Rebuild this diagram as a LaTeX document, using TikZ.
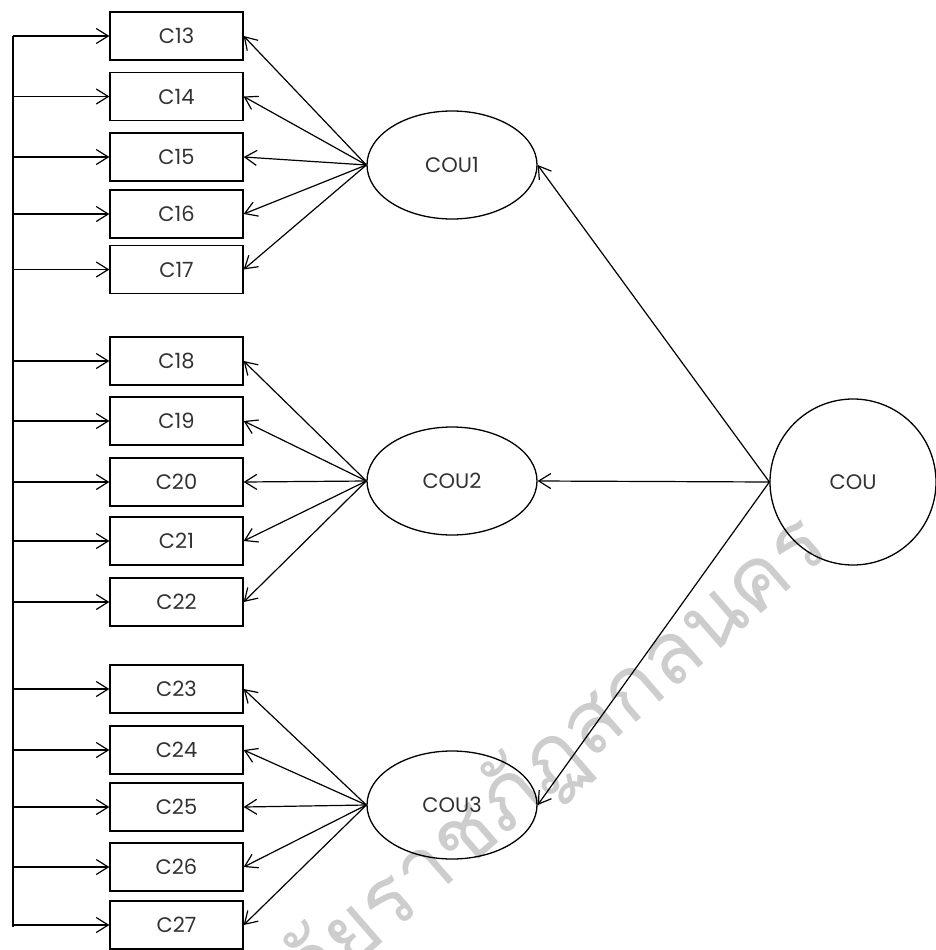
\documentclass[tikz,border=0pt]{standalone}
\usepackage{fontspec}
\setmainfont{Poppins}
\newfontfamily\thaifont[Script=Thai]{Loma}
\usetikzlibrary{arrows.meta,shapes.geometric}

\definecolor{markGrey}{RGB}{205,205,205}
\definecolor{textGrey}{RGB}{50,50,50}

\tikzset{
  itembox/.style={draw, line width=1.3pt, minimum width=133pt, minimum height=48pt,
    inner sep=0pt, font=\fontsize{21}{21}\selectfont, text=textGrey},
  factor/.style={draw, ellipse, line width=1.3pt, minimum width=170pt, minimum height=108pt,
    inner sep=0pt, font=\fontsize{21}{21}\selectfont, text=textGrey},
  barb/.style={-{Straight Barb[length=12pt,width=15pt,line width=1.2pt]}, line width=1.2pt}
}

\begin{document}
\begin{tikzpicture}[x=1pt,y=-1pt]
  \useasboundingbox (0,0) rectangle (935,950);
  % Watermark
  \begin{scope}
    \clip (0,0) rectangle (935,950);
    \node[anchor=base east, rotate=41, text=markGrey, inner sep=0pt,
      font=\thaifont\fontsize{86}{86}\selectfont] (wmark) at (832,552) {มหาวิทยาลัยราชภัฏสกลนคร};
  \end{scope}
  % Items
  \node[itembox] (c13) at (176.5,36) {C13};
  \node[itembox] (c14) at (176.5,96.5) {C14};
  \node[itembox] (c15) at (176.5,157) {C15};
  \node[itembox] (c16) at (176.5,214) {C16};
  \node[itembox] (c17) at (176.5,269.5) {C17};
  \node[itembox] (c18) at (176.5,361) {C18};
  \node[itembox] (c19) at (176.5,421) {C19};
  \node[itembox] (c20) at (176.5,482) {C20};
  \node[itembox] (c21) at (176.5,541) {C21};
  \node[itembox] (c22) at (176.5,602) {C22};
  \node[itembox] (c23) at (176.5,689) {C23};
  \node[itembox] (c24) at (176.5,750) {C24};
  \node[itembox] (c25) at (176.5,807) {C25};
  \node[itembox] (c26) at (176.5,867) {C26};
  \node[itembox] (c27) at (176.5,925) {C27};
  % Factors
  \node[factor] (cou1) at (452,165) {COU1};
  \node[factor] (cou2) at (452,481) {COU2};
  \node[factor] (cou3) at (452,805) {COU3};
  \node[draw, circle, line width=1.3pt, minimum size=166pt, inner sep=0pt,
    font=\fontsize{21}{21}\selectfont, text=textGrey] (cou) at (853,482) {COU};
  % Left spine
  \coordinate (s13) at (13,36);
  \coordinate (s14) at (13,96.5);
  \coordinate (s15) at (13,157);
  \coordinate (s16) at (13,214);
  \coordinate (s17) at (13,269.5);
  \coordinate (s18) at (13,361);
  \coordinate (s19) at (13,421);
  \coordinate (s20) at (13,482);
  \coordinate (s21) at (13,541);
  \coordinate (s22) at (13,602);
  \coordinate (s23) at (13,689);
  \coordinate (s24) at (13,750);
  \coordinate (s25) at (13,807);
  \coordinate (s26) at (13,867);
  \coordinate (s27) at (13,925);
  \draw[line width=1.3pt] (s13) -- ([yshift=-2pt]s27);
  \draw[barb] (s13) -- (c13.west);
  \draw[barb] (s14) -- (c14.west);
  \draw[barb] (s15) -- (c15.west);
  \draw[barb] (s16) -- (c16.west);
  \draw[barb] (s17) -- (c17.west);
  \draw[barb] (s18) -- (c18.west);
  \draw[barb] (s19) -- (c19.west);
  \draw[barb] (s20) -- (c20.west);
  \draw[barb] (s21) -- (c21.west);
  \draw[barb] (s22) -- (c22.west);
  \draw[barb] (s23) -- (c23.west);
  \draw[barb] (s24) -- (c24.west);
  \draw[barb] (s25) -- (c25.west);
  \draw[barb] (s26) -- (c26.west);
  \draw[barb] (s27) -- (c27.west);
  % Loadings
  \draw[barb] (cou1.west) -- (c13.east);
  \draw[barb] (cou1.west) -- (c14.east);
  \draw[barb] (cou1.west) -- (c15.east);
  \draw[barb] (cou1.west) -- (c16.east);
  \draw[barb] (cou1.west) -- (c17.east);
  \draw[barb] (cou2.west) -- (c18.east);
  \draw[barb] (cou2.west) -- (c19.east);
  \draw[barb] (cou2.west) -- (c20.east);
  \draw[barb] (cou2.west) -- (c21.east);
  \draw[barb] (cou2.west) -- (c22.east);
  \draw[barb] (cou3.west) -- (c23.east);
  \draw[barb] (cou3.west) -- (c24.east);
  \draw[barb] (cou3.west) -- (c25.east);
  \draw[barb] (cou3.west) -- (c26.east);
  \draw[barb] (cou3.west) -- (c27.east);
  % Second order
  \draw[barb] (cou.west) -- (cou1.east);
  \draw[barb] (cou.west) -- (cou2.east);
  \draw[barb] (cou.west) -- (cou3.east);
\end{tikzpicture}
\end{document}
